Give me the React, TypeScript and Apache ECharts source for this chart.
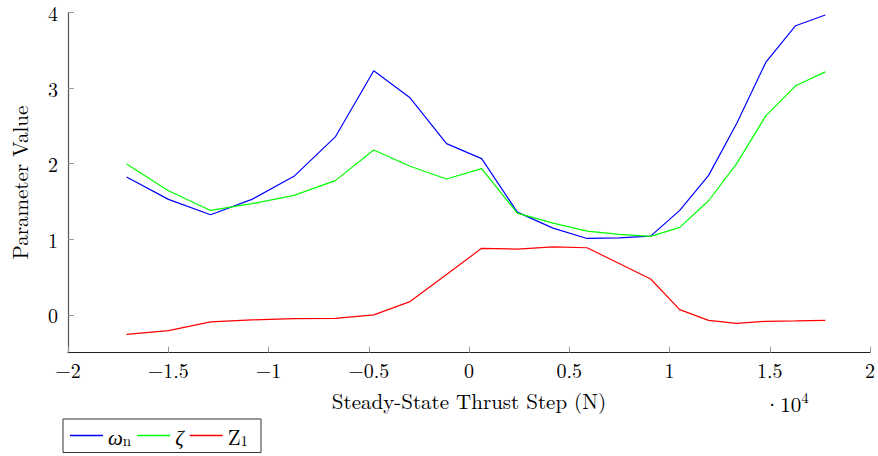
import React, { useEffect, useRef } from "react";
import * as echarts from "echarts";

const thrust = [-17080, -14990, -12890, -10830, -8730, -6670, -4750, -2940, -1120, 630, 2410, 4190, 5890, 7490, 9060, 10510, 11950, 13350, 14800, 16290, 17770];
const omegaN = [1.824, 1.528, 1.325, 1.528, 1.833, 2.354, 3.229, 2.871, 2.266, 2.067, 1.36, 1.148, 1.011, 1.02, 1.042, 1.382, 1.846, 2.531, 3.34, 3.825, 3.967];
const zeta = [1.996, 1.643, 1.382, 1.471, 1.581, 1.776, 2.182, 1.966, 1.797, 1.935, 1.347, 1.214, 1.108, 1.064, 1.038, 1.157, 1.51, 2.001, 2.632, 3.03, 3.215];
const z1 = [-0.257, -0.208, -0.093, -0.066, -0.05, -0.045, 0.0, 0.176, 0.534, 0.881, 0.87, 0.901, 0.888, 0.68, 0.475, 0.07, -0.072, -0.111, -0.085, -0.08, -0.072];
const yTicks = [0, 1, 2, 3, 4];
const seriesNames = ["ωn", "ζ", "Z1"];

const FONT = "'Latin Modern Roman', 'Liberation Serif', serif";

export default function App() {
  const ref = useRef<HTMLDivElement>(null);
  useEffect(() => {
    if (!ref.current) return;
    const chart = echarts.init(ref.current, null, { renderer: "svg" });
    const pair = (ys: number[]) => thrust.map((x, i) => [x, ys[i]]);
    const fmtX = (v: number) => {
      const s = String(Math.abs(v / 10000));
      return v < 0 ? "−" + s : s;
    };
    chart.setOption({
      animation: false,
      grid: { left: 63, right: 6, top: 12.5, bottom: 103.3 },
      xAxis: {
        type: "value",
        min: -20000,
        max: 20000,
        interval: 5000,
        name: "Steady-State Thrust Step (N)",
        nameLocation: "middle",
        nameGap: 37,
        nameTextStyle: { fontFamily: FONT, fontSize: 21, color: "#000" },
        axisLine: { show: true, onZero: false, lineStyle: { color: "#222", width: 1.2 } },
        axisTick: { show: true, inside: true, length: 6, lineStyle: { color: "#999" } },
        axisLabel: { formatter: fmtX, fontFamily: FONT, fontSize: 20, color: "#000", margin: 7 },
        splitLine: { show: false },
      },
      yAxis: {
        type: "value",
        min: -0.5,
        max: 4,
        name: "Parameter Value",
        nameLocation: "middle",
        nameGap: 39,
        nameRotate: 90,
        nameTextStyle: { fontFamily: FONT, fontSize: 21, color: "#000" },
        axisLine: { show: true, onZero: false, lineStyle: { color: "#555", width: 1.2 } },
        axisTick: { show: true, inside: true, length: 6, customValues: yTicks, lineStyle: { color: "#999" } },
        axisLabel: { customValues: yTicks, fontFamily: FONT, fontSize: 20, lineHeight: 20, color: "#000", margin: 10 },
        splitLine: { show: false },
      },
      legend: {
        orient: "horizontal",
        left: 63,
        top: 419,
        padding: [6, 13, 6, 7],
        itemGap: 6,
        itemWidth: 33,
        itemHeight: 1.5,
        icon: "rect",
        borderColor: "#333",
        borderWidth: 1,
        data: seriesNames,
        formatter: (name: string) => {
          if (name === "ωn") return "{i|ω}{s|n}";
          if (name === "ζ") return "{i|ζ}";
          return "{m|Z}{s|1}";
        },
        textStyle: {
          fontFamily: FONT,
          fontSize: 21,
          color: "#000",
          rich: {
            i: { fontFamily: FONT, fontSize: 21, fontStyle: "italic", lineHeight: 22, verticalAlign: "middle", color: "#000" },
            m: { fontFamily: FONT, fontSize: 21, lineHeight: 22, verticalAlign: "middle", color: "#000" },
            s: { fontFamily: FONT, fontSize: 15, lineHeight: 14, verticalAlign: "bottom", color: "#000" },
          },
        },
      },
      graphic: [
        {
          type: "text",
          left: 764,
          top: 389,
          style: {
            text: "{a|·10}{b|4}",
            rich: {
              a: { fontFamily: FONT, fontSize: 21, fill: "#000", lineHeight: 24, verticalAlign: "bottom" },
              b: { fontFamily: FONT, fontSize: 15, fill: "#000", lineHeight: 24, verticalAlign: "top" },
            },
          },
        },
      ],
      series: [
        { name: seriesNames[0], type: "line", data: pair(omegaN), showSymbol: false, symbol: "none", lineStyle: { color: "#0000ff", width: 1.2 }, itemStyle: { color: "#0000ff" } },
        { name: seriesNames[1], type: "line", data: pair(zeta), showSymbol: false, symbol: "none", lineStyle: { color: "#00ff00", width: 1.2 }, itemStyle: { color: "#00ff00" } },
        { name: seriesNames[2], type: "line", data: pair(z1), showSymbol: false, symbol: "none", lineStyle: { color: "#ff0000", width: 1.2 }, itemStyle: { color: "#ff0000" } },
      ],
    });
    return () => chart.dispose();
  }, []);
  return (
    <div
      ref={ref}
      style={{ position: "fixed", left: 0, top: 0, width: 878, height: 456, background: "#fff" }}
    />
  );
}
